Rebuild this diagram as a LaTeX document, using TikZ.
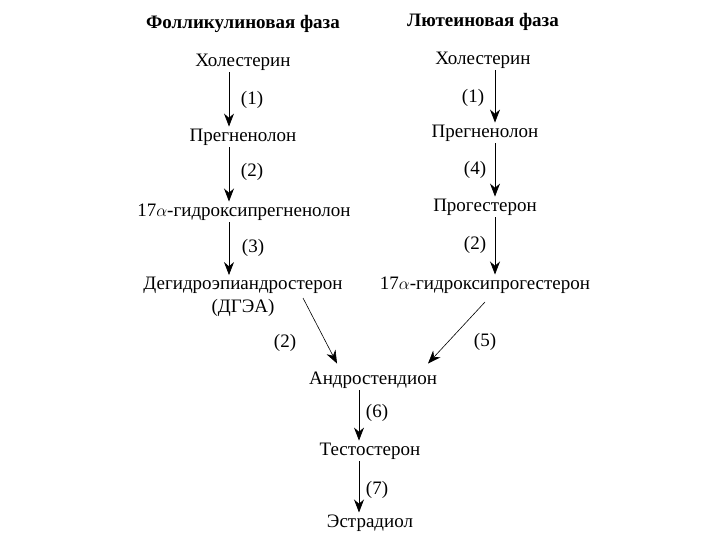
\documentclass[tikz,border=0pt]{standalone}
\usepackage{fontspec}
\setmainfont{Liberation Serif}
\usetikzlibrary{arrows.meta}
\begin{document}
\begin{tikzpicture}[x=1pt,y=-1pt,
  lbl/.style={font=\fontsize{19}{23}\selectfont, inner sep=2pt},
  ttl/.style={font=\fontsize{19}{21}\selectfont\bfseries, inner sep=2pt},
  num/.style={font=\fontsize{19}{21}\selectfont, inner sep=0pt},
  arr/.style={line width=0.7pt, -{Stealth[length=13pt,width=10pt]}},
  dar/.style={line width=0.6pt, -{Stealth[length=13pt,width=10pt]}}]
\useasboundingbox (0,0) rectangle (720,540);
% titles
\node[ttl] (t1) at (243,24) {Фолликулиновая фаза};
\node[ttl] (t2) at (483,22) {Лютеиновая фаза};
% left column
\node[lbl] (h1) at (243,62) {Холестерин};
\node[lbl] (p1) at (243,137) {Прегненолон};
\node[lbl] (g1) at (244,212) {17$\alpha$-гидроксипрегненолон};
\node[lbl, align=center] (d1) at (243,297) {Дегидроэпиандростерон\\(ДГЭА)};
% right column
\node[lbl] (h2) at (483,60) {Холестерин};
\node[lbl] (p2) at (485,133) {Прегненолон};
\node[lbl] (pr) at (485,207) {Прогестерон};
\node[lbl] (g2) at (485,285) {17$\alpha$-гидроксипрогестерон};
% bottom
\node[lbl] (an) at (373,380) {Андростендион};
\node[lbl] (te) at (370,451) {Тестостерон};
\node[lbl] (es) at (370,523) {Эстрадиол};
% left arrows
\draw[arr] ([xshift=-14pt]h1.south) -- ([xshift=-14pt]p1.north);
\draw[arr] ([xshift=-14pt]p1.south) -- ([xshift=-15pt]g1.north);
\draw[arr] ([xshift=-15pt]g1.south) -- ([xshift=-14pt]d1.north);
\node[num] (n1) at (252,100) {(1)};
\node[num] (n2) at (252,172) {(2)};
\node[num] (n3) at (253,248) {(3)};
% right arrows
\draw[arr] ([xshift=12pt]h2.south) -- ([xshift=10pt]p2.north);
\draw[arr] ([xshift=10pt]p2.south) -- ([xshift=10pt]pr.north);
\draw[arr] ([xshift=10pt]pr.south) -- ([xshift=10pt]g2.north);
\node[num] (m1) at (473,98) {(1)};
\node[num] (m4) at (475,170) {(4)};
\node[num] (m2) at (475,245) {(2)};
% diagonals
\coordinate (dl) at (303,298);
\coordinate (dr) at (485,302);
\draw[dar] (dl) -- ([xshift=-36pt,yshift=6pt]an.north);
\draw[dar] (dr) -- ([xshift=55pt,yshift=6pt]an.north);
\node[num] (k2) at (285,343) {(2)};
\node[num] (k5) at (485,342) {(5)};
% bottom arrows
\draw[arr] ([xshift=-14pt]an.south) -- ([xshift=-11pt]te.north);
\draw[arr] ([xshift=-11pt]te.south) -- ([xshift=-11pt]es.north);
\node[num] (k6) at (377,413) {(6)};
\node[num] (k7) at (377,490) {(7)};
\end{tikzpicture}
\end{document}
